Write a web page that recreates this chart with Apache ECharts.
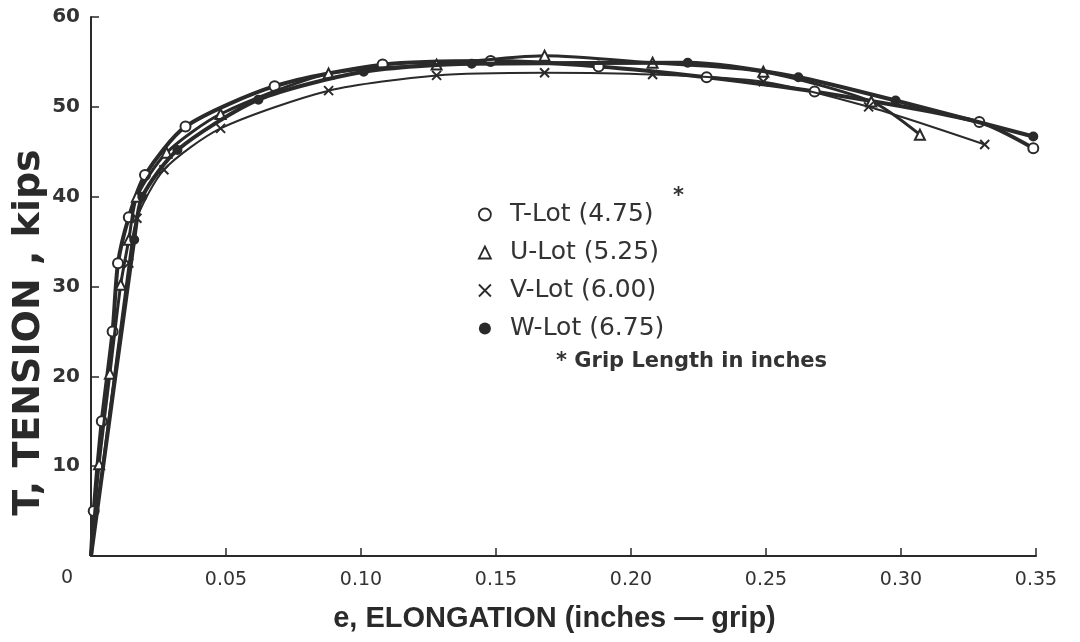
<!DOCTYPE html>
<html>
<head>
<meta charset="utf-8">
<script src="https://cdn.jsdelivr.net/npm/echarts@6/dist/echarts.min.js"></script>
<style>html,body{margin:0;padding:0;background:#fff}#c{width:1080px;height:642px}</style>
</head>
<body>
<div id="c"></div>
<script>
// ---- data (elongation in inches, tension in kips) ----
const seriesNames = ['T-Lot (4.75)', 'U-Lot (5.25)', 'V-Lot (6.00)', 'W-Lot (6.75)'];
const tLot = [[0,0],[0.001,5],[0.004,15],[0.008,25],[0.010,32.6],[0.014,37.7],[0.020,42.4],[0.035,47.8],[0.068,52.3],[0.108,54.7],[0.148,55.1],[0.188,54.5],[0.228,53.3],[0.268,51.7],[0.329,48.3],[0.349,45.4]];
const uLot = [[0,0],[0.003,10.2],[0.007,20.3],[0.011,30.2],[0.014,35.2],[0.017,40.0],[0.028,44.9],[0.048,49.2],[0.088,53.7],[0.128,54.7],[0.168,55.7],[0.208,54.9],[0.249,53.9],[0.289,50.6],[0.307,46.9]];
const vLot = [[0,0],[0.014,32.6],[0.017,37.6],[0.027,43.0],[0.048,47.6],[0.088,51.8],[0.128,53.5],[0.168,53.8],[0.208,53.6],[0.249,52.8],[0.288,50.0],[0.331,45.8]];
const wLot = [[0,0],[0.016,35.2],[0.019,40.0],[0.032,45.2],[0.062,50.8],[0.101,53.9],[0.141,54.8],[0.221,54.9],[0.262,53.3],[0.298,50.7],[0.349,46.7]];
const xTicks = [0, 0.05, 0.10, 0.15, 0.20, 0.25, 0.30, 0.35];
const xTickLabels = ['0', '0.05', '0.10', '0.15', '0.20', '0.25', '0.30', '0.35'];
const yTickLabels = ['', '10', '20', '30', '40', '50', '60'];
const xTitle = 'e, ELONGATION (inches — grip)';
const yTitle = 'T, TENSION , kips';
const footnote = '* Grip Length in inches';
const footnoteMark = '*';

const ink = '#2a2a2a';
const font = 'DejaVu Sans';
const crossPath = 'path://M0,0L10,10M10,0L0,10';

function pts(arr) {
  return arr.map((p, i) => i === 0 ? {value: p, symbol: 'none'} : {value: p});
}
const styles = [
  {symbol: 'circle', size: 10, color: '#fff', width: 4},
  {symbol: 'triangle', size: 10, color: '#fff', width: 3},
  {symbol: crossPath, size: 9, color: 'transparent', width: 2},
  {symbol: 'circle', size: 8, color: ink, width: 4}
];
const datasets = [tLot, uLot, vLot, wLot];

const series = datasets.map((d, i) => ({
  name: seriesNames[i],
  type: 'line',
  data: pts(d),
  smooth: 0.25,
  symbol: styles[i].symbol,
  symbolSize: styles[i].size,
  showAllSymbol: true,
  lineStyle: {color: ink, width: styles[i].width},
  itemStyle: {color: styles[i].color, borderColor: ink, borderWidth: 2},
  emphasis: {disabled: true},
  z: 3 + i,
  animation: false
}));

const legendIcons = ['circle', 'triangle', crossPath, 'circle'];
const legendFill = ['#fff', '#fff', 'transparent', ink];

const chart = echarts.init(document.getElementById('c'), null, {renderer: 'canvas'});
chart.setOption({
  backgroundColor: '#fff',
  animation: false,
  grid: {left: 91, right: 44, top: 17, bottom: 86, containLabel: false, outerBoundsMode: 'none'},
  xAxis: {
    type: 'value', min: 0, max: 0.35, interval: 0.05,
    axisLine: {show: true, lineStyle: {color: ink, width: 2}},
    axisTick: {show: true, inside: true, length: 8, lineStyle: {color: ink, width: 1.5}},
    splitLine: {show: false},
    axisLabel: {
      margin: 15, fontFamily: font, fontSize: 19, color: '#333',
      formatter: v => {
        const k = xTicks.findIndex(t => Math.abs(t - v) < 1e-6);
        return k > 0 ? xTickLabels[k] : '';
      }
    },
    name: xTitle, nameLocation: 'middle', nameGap: 48, nameMoveOverlap: false,
    nameTextStyle: {fontFamily: 'Liberation Sans', fontWeight: 'bold', fontSize: 29, color: '#2a2a2a', padding: [0, 18, 0, 0]}
  },
  yAxis: {
    type: 'value', min: 0, max: 60, interval: 10,
    axisLine: {show: true, lineStyle: {color: ink, width: 2}},
    axisTick: {show: true, inside: true, length: 8, lineStyle: {color: ink, width: 1.5}},
    splitLine: {show: false},
    axisLabel: {
      margin: 11, fontFamily: font, fontWeight: 'bold', fontSize: 20, color: '#333',
      formatter: v => yTickLabels[Math.round(v / 10)] || ''
    },
    name: yTitle, nameLocation: 'middle', nameGap: 43, nameRotate: 90, nameMoveOverlap: false,
    nameTextStyle: {fontFamily: font, fontWeight: 'bold', fontSize: 38, color: '#2a2a2a', padding: [0, 92, 0, 0]}
  },
  legend: {
    orient: 'vertical', left: 473, top: 197,
    itemWidth: 12, itemHeight: 12, itemGap: 13,
    selectedMode: false,
    data: seriesNames.map((n, i) => ({
      name: n,
      icon: legendIcons[i],
      itemStyle: {color: legendFill[i], borderColor: ink, borderWidth: i === 3 ? 0 : 1.8}
    })),
    textStyle: {fontFamily: font, fontSize: 25, color: '#333', lineHeight: 25, padding: [0, 0, 0, 14]}
  },
  graphic: [
    {type: 'text', left: 673, top: 186, style: {text: footnoteMark, font: 'bold 21px "DejaVu Sans"', fill: '#333'}},
    {type: 'text', left: 556, top: 351, style: {text: footnote, font: 'bold 21px "DejaVu Sans"', fill: '#333'}},
    {type: 'text', left: 61, top: 569, style: {text: xTickLabels[0], font: '19px "DejaVu Sans"', fill: '#333'}}
  ],
  series: series
});
</script>
</body>
</html>
